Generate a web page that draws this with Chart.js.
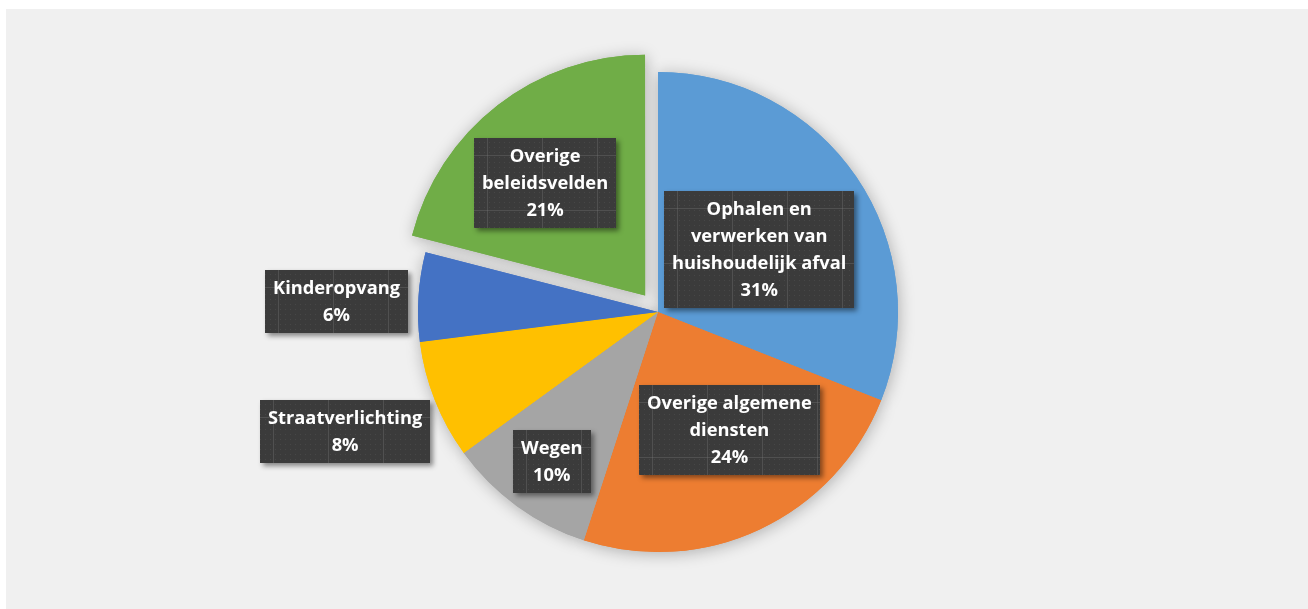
<!DOCTYPE html>
<html>
<head>
<meta charset="utf-8">
<script src="https://cdn.jsdelivr.net/npm/chart.js@4/dist/chart.umd.min.js"></script>
<style>
  html, body { margin: 0; padding: 0; background: #ffffff; }
  #wrap { position: absolute; left: 6px; top: 9px; width: 1302px; height: 600px; background: #f0f0f0; }
  canvas { display: block; }
</style>
</head>
<body>
<div id="wrap"><canvas id="c" width="1302" height="600"></canvas></div>
<script>
// ---- data ----
const categories = [
  'Ophalen en verwerken van huishoudelijk afval',
  'Overige algemene diensten',
  'Wegen',
  'Straatverlichting',
  'Kinderopvang',
  'Overige beleidsvelden'
];
const labelLines = [
  ['Ophalen en', 'verwerken van', 'huishoudelijk afval'],
  ['Overige algemene', 'diensten'],
  ['Wegen'],
  ['Straatverlichting'],
  ['Kinderopvang'],
  ['Overige', 'beleidsvelden']
];
const shares = [31, 24, 10, 8, 6, 21];

// ---- styles / layout ----
const colors = ['#5B9BD5', '#ED7D31', '#A5A5A5', '#FFC000', '#4472C4', '#70AD47'];
const explode = [0, 0, 0, 0, 0, 84];
const labelRadius = [0.5, 0.57, 0.77, 1.4, 1.34, 0.72];
const labelNudge = [[2, 5], [13, -6], [2, 0], [0, -4], [0, 10], [-7, 8]];

function makePattern(ctx) {
  const t = document.createElement('canvas');
  t.width = 55; t.height = 55;
  const g = t.getContext('2d');
  g.fillStyle = '#3b3b3b';
  g.fillRect(0, 0, 55, 55);
  g.fillStyle = '#474747';
  for (let y = 2; y < 55; y += 5) for (let x = 2; x < 55; x += 5) g.fillRect(x, y, 1, 1);
  g.fillStyle = 'rgba(120,120,120,0.35)';
  g.fillRect(0, 0, 55, 1);
  g.fillRect(0, 0, 1, 55);
  return ctx.createPattern(t, 'repeat');
}

const shadowPlugin = {
  id: 'pieShadow',
  beforeDatasetsDraw(chart) {
    const ctx = chart.ctx;
    const meta = chart.getDatasetMeta(0);
    ctx.save();
    ctx.shadowColor = 'rgba(0,0,0,0.28)';
    ctx.shadowBlur = 16;
    ctx.shadowOffsetX = 1;
    ctx.shadowOffsetY = 2;
    meta.data.forEach(a => a.draw(ctx));
    ctx.restore();
  }
};

const labelPlugin = {
  id: 'boxLabels',
  afterDatasetsDraw(chart) {
    const ctx = chart.ctx;
    const meta = chart.getDatasetMeta(0);
    const pat = makePattern(ctx);
    const total = shares.reduce((s, v) => s + v, 0);
    ctx.save();
    ctx.font = 'bold 18.3px "Open Sans"';
    const lh = 27, padX = 8, padY = 4.5;
    meta.data.forEach((arc, i) => {
      const p = arc.getProps(['x', 'y', 'startAngle', 'endAngle', 'outerRadius'], true);
      const mid = (p.startAngle + p.endAngle) / 2;
      const cx = p.x + Math.cos(mid) * p.outerRadius * labelRadius[i] + labelNudge[i][0];
      const cy = p.y + Math.sin(mid) * p.outerRadius * labelRadius[i] + labelNudge[i][1];
      const lines = labelLines[i].concat([Math.round(shares[i] / total * 100) + '%']);
      const w = Math.max(...lines.map(l => ctx.measureText(l).width)) + padX * 2;
      const h = lines.length * lh + padY * 2;
      const x0 = Math.round(cx - w / 2), y0 = Math.round(cy - h / 2);
      ctx.save();
      ctx.shadowColor = 'rgba(0,0,0,0.45)';
      ctx.shadowBlur = 5;
      ctx.shadowOffsetX = 3;
      ctx.shadowOffsetY = 3;
      ctx.fillStyle = '#3b3b3b';
      ctx.fillRect(x0, y0, Math.round(w), Math.round(h));
      ctx.restore();
      ctx.save();
      ctx.translate(x0 + 13, y0 + 17);
      ctx.fillStyle = pat;
      ctx.fillRect(-13, -17, Math.round(w), Math.round(h));
      ctx.restore();
      ctx.fillStyle = '#ffffff';
      ctx.textAlign = 'center';
      ctx.textBaseline = 'middle';
      lines.forEach((l, k) => {
        ctx.fillText(l, x0 + w / 2, y0 + padY + lh * k + lh / 2 + 1);
      });
    });
    ctx.restore();
  }
};

new Chart(document.getElementById('c'), {
  type: 'pie',
  data: {
    labels: categories,
    datasets: [{
      data: shares,
      backgroundColor: colors,
      borderWidth: 0,
      offset: explode
    }]
  },
  options: {
    responsive: false,
    animation: false,
    radius: 240,
    layout: { padding: { left: 2, top: 6, right: 0, bottom: 0 } },
    plugins: { legend: { display: false }, tooltip: { enabled: false } }
  },
  plugins: [shadowPlugin, labelPlugin]
});
</script>
</body>
</html>
